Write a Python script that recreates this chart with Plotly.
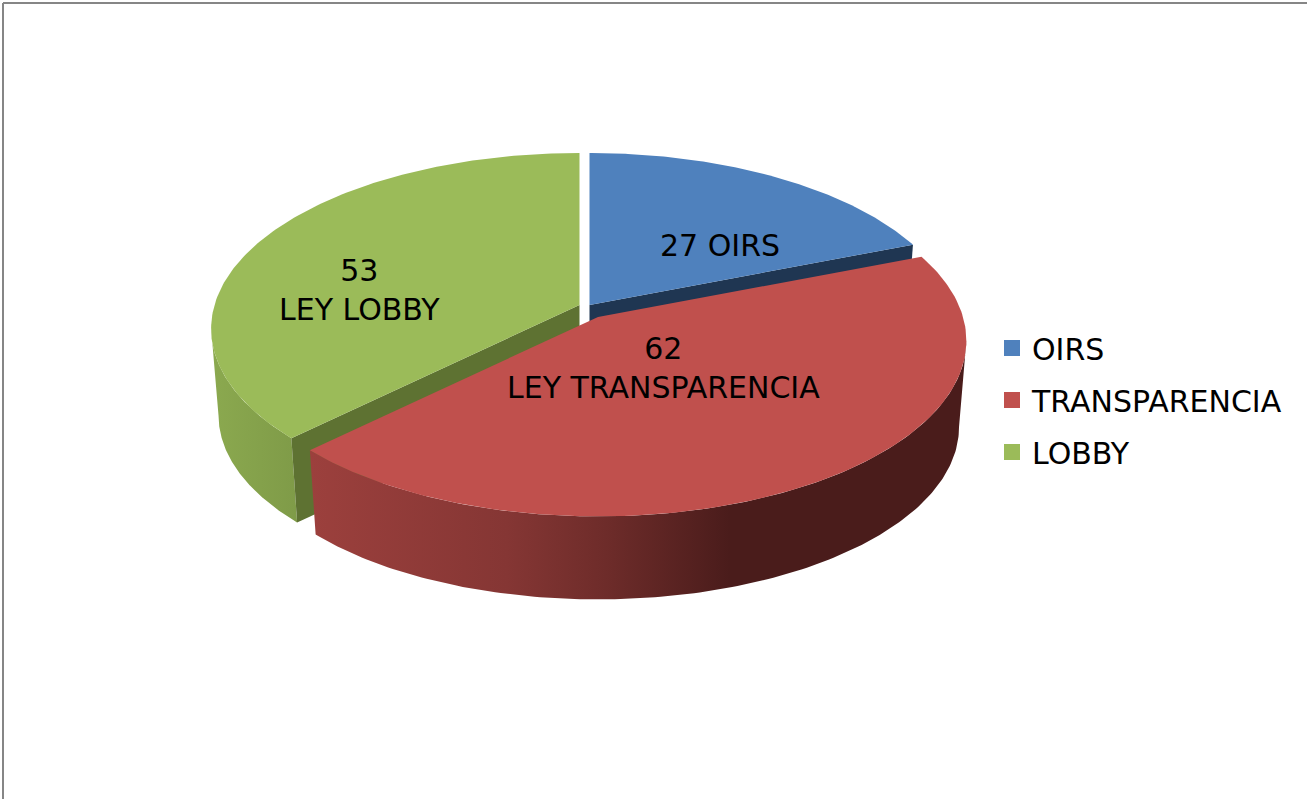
import math
import plotly.graph_objects as go

# --- data ---
legend_names = ["OIRS", "TRANSPARENCIA", "LOBBY"]
values = [27, 62, 53]
slice_labels = ["27 OIRS", "62<br>LEY TRANSPARENCIA", "53<br>LEY LOBBY"]

# --- styling ---
top_colors = ["#4F81BD", "#C0504D", "#9BBB59"]
wall_colors = ["#1F3652", "#4A1C1B", "#5E7232"]
red_side = [[0, "#9C403D"], [0.3, "#853634"], [0.45, "#6E2C2A"], [0.64, "#4A1C1B"], [1, "#4A1C1B"]]
green_side = [[0, "#8BA94F"], [1, "#7F9B48"]]

# Projection of the pie: perspective ellipse in pixels
A, B, K = 365.0, 172.5, 0.135
DEPTH, SHRINK = 87.0, 0.98
APEX = [(589.5, 305.0), (598.0, 317.0), (579.5, 305.0)]
LABEL_POS = [(720, 245), (663, 368), (359, 290)]


def proj(apex, theta, bottom=False):
    u, v = math.sin(theta), math.cos(theta)
    w = 1 + K * v
    s = SHRINK if bottom else 1.0
    return (apex[0] + s * A * u / w, apex[1] - s * B * v / w + (DEPTH if bottom else 0.0))


def arc(apex, t0, t1, bottom=False, n=160):
    pts = [proj(apex, t0 + (t1 - t0) * i / n, bottom) for i in range(n + 1)]
    return pts


def poly(pts, **kw):
    return go.Scatter(
        x=[p[0] for p in pts], y=[p[1] for p in pts], mode="lines", fill="toself",
        line=dict(width=0), showlegend=False, hoverinfo="skip", **kw
    )


total = sum(values)
edges = [0.0]
for val in values:
    edges.append(edges[-1] + val / total * 2 * math.pi)
spans = list(zip(edges[:-1], edges[1:]))

# silhouette angles: where the projected rim reaches its widest point
right_ext = math.acos(-K)
left_ext = 2 * math.pi - right_ext

fig = go.Figure()

# green: outer side, inner wall, top
g0, g1 = spans[2]
ga = APEX[2]
fig.add_trace(poly(arc(ga, g0, left_ext) + arc(ga, left_ext, g0, True),
                   fillgradient=dict(type="horizontal", colorscale=green_side)))
fig.add_trace(poly([ga, proj(ga, g0), proj(ga, g0, True), (ga[0], ga[1] + DEPTH)], fillcolor=wall_colors[2]))
fig.add_trace(poly([ga] + arc(ga, g0, g1) + [ga], fillcolor=top_colors[2]))

# blue: inner wall, top
b0, b1 = spans[0]
ba = APEX[0]
fig.add_trace(poly([ba, proj(ba, b1), proj(ba, b1, True), (ba[0], ba[1] + DEPTH)], fillcolor=wall_colors[0]))
fig.add_trace(poly([ba] + arc(ba, b0, b1) + [ba], fillcolor=top_colors[0]))

# red: outer side, top
r0, r1 = spans[1]
ra = APEX[1]
fig.add_trace(poly(arc(ra, right_ext, r1) + arc(ra, r1, right_ext, True),
                   fillgradient=dict(type="horizontal", colorscale=red_side)))
fig.add_trace(poly([ra] + arc(ra, r0, r1) + [ra], fillcolor=top_colors[1]))

# legend entries
for i, name in enumerate(legend_names):
    fig.add_trace(go.Scatter(
        x=[None], y=[None], mode="markers", name=name, legendgroup=name,
        marker=dict(symbol="square", size=17, color=top_colors[i]),
    ))

for text, (x, y) in zip(slice_labels, LABEL_POS):
    fig.add_annotation(x=x, y=y, text=text, showarrow=False, xanchor="center", yanchor="middle",
                       font=dict(family="DejaVu Sans", size=30, color="black"))

frame = dict(type="line", layer="above", line=dict(color="#868686", width=2))
fig.add_shape(x0=3, x1=1307, y0=3, y1=3, **frame)
fig.add_shape(x0=3, x1=3, y0=3, y1=799, **frame)

fig.update_layout(
    width=1307, height=799, margin=dict(l=0, r=0, t=0, b=0),
    paper_bgcolor="white", plot_bgcolor="white",
    xaxis=dict(range=[0, 1307], visible=False, fixedrange=True),
    yaxis=dict(range=[799, 0], visible=False, fixedrange=True),
    legend=dict(x=992 / 1307, y=1 - 322 / 799, xanchor="left", yanchor="top",
                font=dict(family="DejaVu Sans", size=30, color="black"),
                tracegroupgap=10, bgcolor="rgba(0,0,0,0)", itemclick=False, itemdoubleclick=False),
)

fig.write_html("out.html", post_script="document.body.style.margin='0';document.documentElement.style.overflow='hidden';",
               config={"displayModeBar": False})
